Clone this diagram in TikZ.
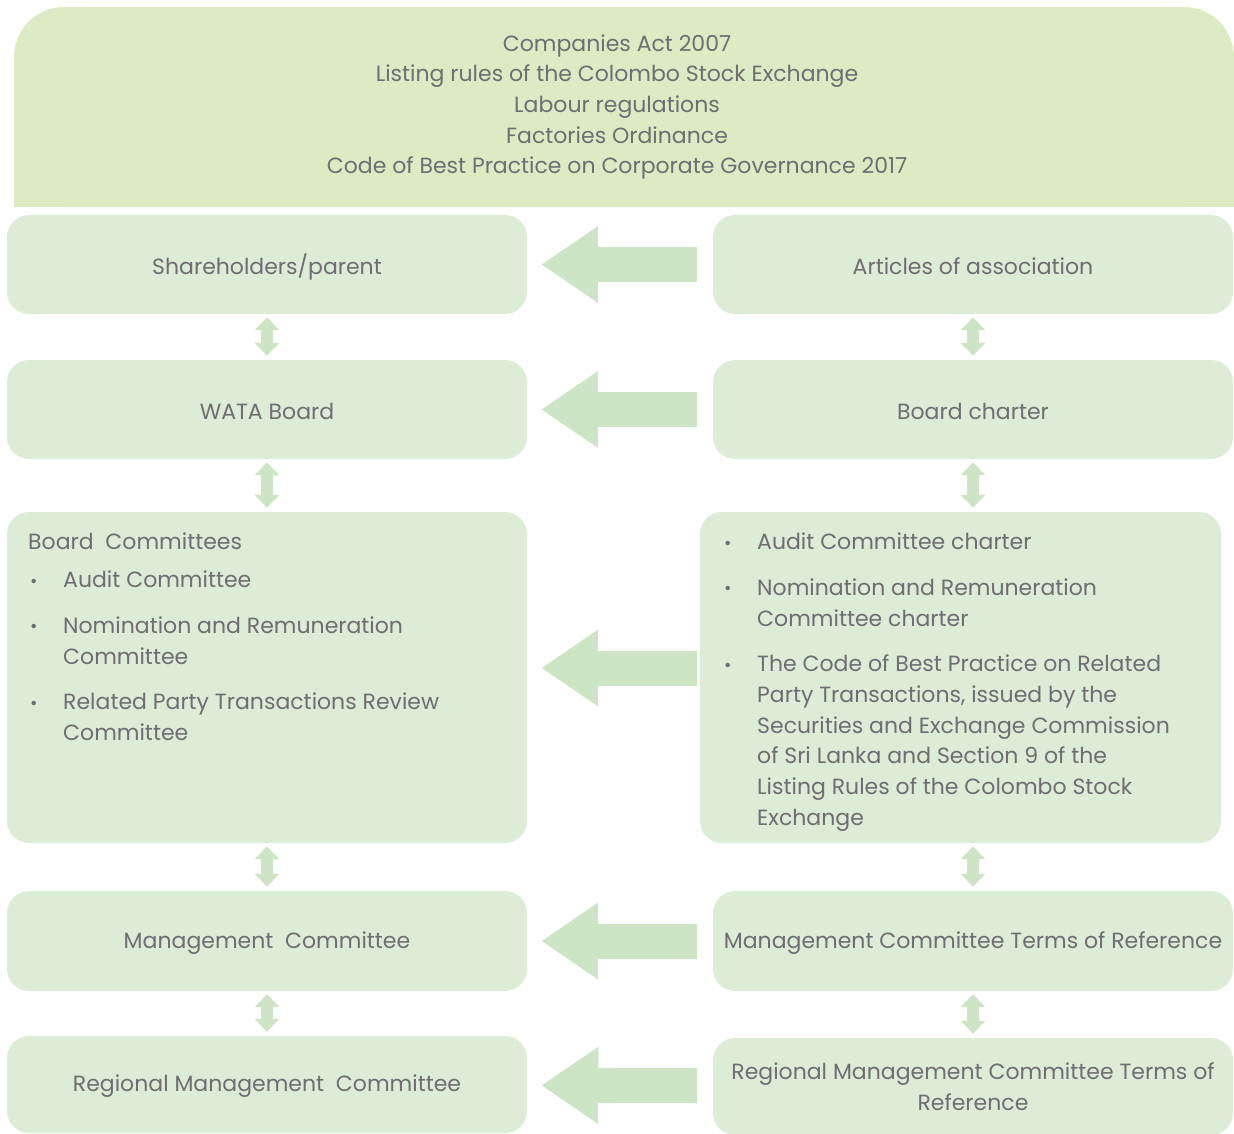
\documentclass[tikz,border=0pt]{standalone}
\usepackage{fontspec}
\setmainfont{Poppins}
\usetikzlibrary{arrows.meta,calc}
\definecolor{bannerfill}{HTML}{DDEBC4}
\definecolor{boxfill}{HTML}{DCECD6}
\definecolor{arrowfill}{HTML}{CDE5C4}
\definecolor{ink}{HTML}{6D6E71}
\newcommand{\txt}{\fontsize{22}{30.7}\selectfont}
\newcommand{\bul}{\makebox[33pt][l]{\raisebox{0.5pt}{\fontsize{18}{18}\selectfont •}}}
\newcommand{\low}[1]{\raisebox{-2pt}[\height][\depth]{#1}}
\begin{document}
\begin{tikzpicture}[x=1pt,y=-1pt,
  box/.style={fill=boxfill, rounded corners=22pt, inner sep=0pt,
    minimum width=520pt, minimum height=99pt, text=ink, align=center,
    font=\txt},
  label/.style={inner sep=0pt, text=ink, font=\txt},
  dbl/.style={draw=arrowfill, line width=12pt,
    {Triangle[width=24pt,length=13pt]}-{Triangle[width=24pt,length=13pt]},
    shorten <=3pt, shorten >=4pt},
  big/.style={draw=arrowfill, line width=35pt,
    -{Triangle[width=73pt,length=57pt]}, shorten >=14pt}]
\useasboundingbox (0,0) rectangle (1234,1133);

% legal framework banner
\node[fill=bannerfill, rounded corners=50pt, minimum width=1220pt,
  minimum height=200pt, inner sep=0pt] (law) at (624,107) {};
\fill[bannerfill] (14,120) rectangle (1234,207);
\node[label, align=center] (lawtext) at (617,107) {Companies Act 2007\\
  Listing rules of the Colombo Stock Exchange\\
  Labour regulations\\
  Factories Ordinance\\
  Code of Best Practice on Corporate Governance 2017};

% governance structure (left) and governing documents (right)
\node[box] (sh) at (267,264.5) {\low{Shareholders/parent}};
\node[box] (ar) at (973,264.5) {\low{Articles of association}};
\node[box] (wb) at (267,409.5) {\low{WATA Board}};
\node[box] (bc) at (973,409.5) {\low{Board charter}};
\node[box, minimum height=331pt] (cm) at (267,677.5) {};
\node[box, minimum width=521pt, minimum height=331pt] (cc) at (960.5,677.5) {};
\node[box, minimum height=100pt] (mc) at (267,941) {\low{Management\ \ Committee}};
\node[box, minimum height=100pt] (mt) at (973,941) {\low{Management Committee Terms of Reference}};
\node[box, minimum height=97pt] (rm) at (267,1084.5) {\low{Regional Management\ \ Committee}};
\node[box, minimum height=97pt] (rt) at (973,1086.5) {Regional Management Committee Terms of\\Reference};

% committee list
\node[label, anchor=north west, align=left] (cmtext) at (28,528) {%
  \begin{tabular}{@{}l@{}}
  Board\ \ Committees\\[7.3pt]
  \hspace*{2pt}\bul Audit Committee\\[15pt]
  \hspace*{2pt}\bul Nomination and Remuneration\\
  \hspace*{35pt}Committee\\[15pt]
  \hspace*{2pt}\bul Related Party Transactions Review\\
  \hspace*{35pt}Committee
  \end{tabular}};

% charter list
\node[label, anchor=north west, align=left] (cctext) at (724,528) {%
  \begin{tabular}{@{}l@{}}
  \bul Audit Committee charter\\[15pt]
  \bul Nomination and Remuneration\\
  \hspace*{33pt}Committee charter\\[15pt]
  \bul The Code of Best Practice on Related\\
  \hspace*{33pt}Party Transactions, issued by the\\
  \hspace*{33pt}Securities and Exchange Commission\\
  \hspace*{33pt}of Sri Lanka and Section 9 of the\\
  \hspace*{33pt}Listing Rules of the Colombo Stock\\
  \hspace*{33pt}Exchange
  \end{tabular}};

% documents inform the structure
\draw[big, shorten <=16pt] (ar) -- (sh);
\draw[big, shorten <=16pt] (bc) -- (wb);
\draw[big, shorten <=3pt] ([yshift=9.5pt]cc.west) -- ([yshift=9.5pt]cm.east);
\draw[big, shorten <=16pt] (mt) -- (mc);
\draw[big, shorten <=16pt] (rt) -- (rm);

% two-way links down each column
\draw[dbl] (sh) -- (wb);
\draw[dbl] (wb) -- (cm);
\draw[dbl] (cm) -- (mc);
\draw[dbl] (mc) -- (rm);
\draw[dbl] (ar) -- (bc);
\draw[dbl] (bc.south) -- (bc.south |- cc.north);
\draw[dbl] (cc.south -| mt.north) -- (mt.north);
\draw[dbl] (mt) -- (rt);
\end{tikzpicture}
\end{document}
